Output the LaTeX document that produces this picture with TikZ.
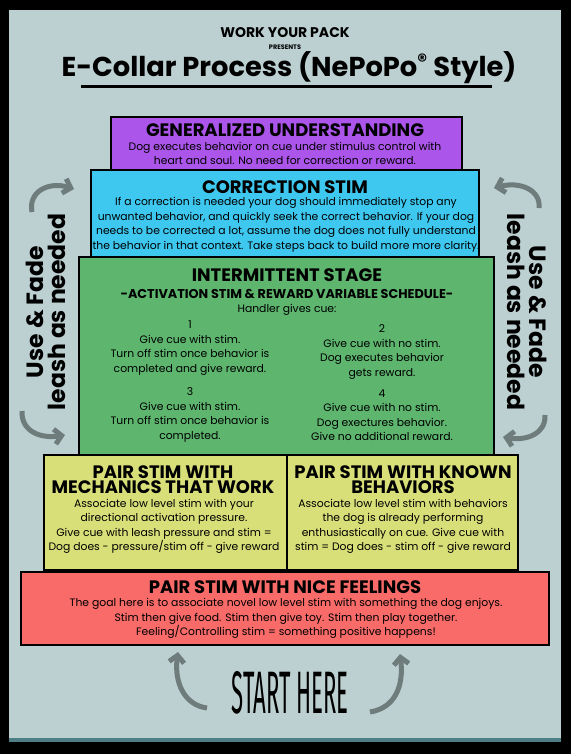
\documentclass[tikz,border=0pt]{standalone}
\usepackage{fontspec}
\usepackage{graphicx}
\setmainfont{Poppins}
\newfontfamily\handfont{Fira Sans}
\usetikzlibrary{arrows.meta}
\definecolor{paperblue}{HTML}{BCCFD1}
\definecolor{edgeteal}{HTML}{4E7F86}
\definecolor{genpurple}{HTML}{AB55EA}
\definecolor{corrcyan}{HTML}{3EC8F0}
\definecolor{intgreen}{HTML}{5DB56E}
\definecolor{pairyellow}{HTML}{D9DF78}
\definecolor{nicered}{HTML}{F86B68}
\definecolor{arrowgrey}{HTML}{6E7C7C}
\tikzset{
    x=1pt, y=-1pt, % one unit is one pixel of the poster, y runs down
    }

\begin{document}
\begin{tikzpicture}[
tierbox/.style={draw=black, line width=2.4pt, inner sep=0pt},
tierhead/.style={font=\bfseries\fontsize{18}{14.5}\selectfont, align=center, inner sep=0pt},
tierbody/.style={font=\fontsize{10.8}{14.5}\selectfont, align=center, inner sep=0pt},
sidenote/.style={font=\bfseries\fontsize{23.5}{22}\selectfont, align=center, inner sep=0pt},
bentarrow/.style={draw=arrowgrey, line width=5pt, -{Straight Barb[length=7pt,width=15pt]}},
]
\useasboundingbox (0,0) rectangle (571,754);
\fill[black] (0,0) rectangle (571,754);
\fill[paperblue] (9,10) rectangle (561,738);
\fill[edgeteal] (9,738) rectangle (561,742);

% heading
\node[font=\bfseries\fontsize{14}{14}\selectfont, inner sep=0pt] (pack) at (285,33) {WORK YOUR PACK};
\node[font=\bfseries\fontsize{6.5}{6.5}\selectfont, inner sep=0pt] (presents) at (285,47) {PRESENTS};
\node[font=\bfseries\fontsize{27.3}{27.3}\selectfont, inner sep=0pt] (title) at (289,68) {E-Collar Process (NePoPo\textsuperscript{®} Style)};
\draw[line width=3pt] (81,87) -- (492,87);

% tiers, bottom up
\node[tierbox, fill=nicered, minimum width=528pt, minimum height=73pt] (nice) at (285,608.5) {};
\node[tierbox, fill=pairyellow, minimum width=243pt, minimum height=115pt] (mech) at (165.5,512.5) {};
\node[tierbox, fill=pairyellow, minimum width=231pt, minimum height=115pt] (known) at (402.5,512.5) {};
\node[tierbox, fill=intgreen, minimum width=415pt, minimum height=198pt] (inter) at (286.5,356) {};
\node[tierbox, fill=corrcyan, minimum width=388pt, minimum height=87pt] (corr) at (285,213.5) {};
\node[tierbox, fill=genpurple, minimum width=351pt, minimum height=53pt] (general) at (286.5,143.5) {};

\node[tierhead] (generalhead) at (285,130) {GENERALIZED UNDERSTANDING};
\node[tierbody] (generalbody) at (285,153.5) {Dog executes behavior on cue under stimulus control with\\heart and soul. No need for correction or reward.};

\node[tierhead] (corrhead) at (285,187) {CORRECTION STIM};
\node[tierbody] (corrbody) at (286,224.8) {If a correction is needed your dog should immediately stop any\\unwanted behavior, and quickly seek the correct behavior. If your dog\\needs to be corrected a lot, assume the dog does not fully understand\\the behavior in that context. Take steps back to build more more clarity.};

\node[tierhead] (interhead) at (287,275) {INTERMITTENT STAGE};
\node[tierhead, font=\bfseries\fontsize{12.8}{13}\selectfont] (intersub) at (287,294) {-ACTIVATION STIM \& REWARD VARIABLE SCHEDULE-};
\node[tierbody] (handler) at (287,310) {Handler gives cue:};
\node[tierbody] (stepone) at (190,348) {1\\Give cue with stim.\\Turn off stim once behavior is\\completed and give reward.};
\node[tierbody] (steptwo) at (382,352) {2\\Give cue with no stim.\\Dog executes behavior\\gets reward.};
\node[tierbody] (stepthree) at (190,415) {3\\Give cue with stim.\\Turn off stim once behavior is\\completed.};
\node[tierbody] (stepfour) at (382,415) {4\\Give cue with no stim.\\Dog exectures behavior.\\Give no additional reward.};

\node[tierhead, font=\bfseries\fontsize{18}{15}\selectfont] (mechhead) at (163,480) {PAIR STIM WITH\\MECHANICS THAT WORK};
\node[tierbody] (mechbody) at (164,526.5) {Associate low level stim with your\\directional activation pressure.\\Give cue with leash pressure and stim =\\Dog does - pressure/stim off - give reward};
\node[tierhead, font=\bfseries\fontsize{18}{15}\selectfont] (knownhead) at (403,480) {PAIR STIM WITH KNOWN\\BEHAVIORS};
\node[tierbody] (knownbody) at (403,526.5) {Associate low level stim with behaviors\\the dog is already performing\\enthusiastically on cue. Give cue with\\stim = Dog does - stim off - give reward};

\node[tierhead] (nicehead) at (285,587) {PAIR STIM WITH NICE FEELINGS};
\node[tierbody] (nicebody) at (286,618.5) {The goal here is to associate novel low level stim with something the dog enjoys.\\Stim then give food. Stim then give toy. Stim then play together.\\Feeling/Controlling stim = something positive happens!};

% leash notes at the sides
\node[sidenote, rotate=90] (leashleft) at (46,312) {Use \& Fade\\leash as needed};
\node[sidenote, rotate=-90] (leashright) at (527,312) {Use \& Fade\\leash as needed};

\coordinate (ltail) at (32,212);
\coordinate (lhead) at (74,189);
\coordinate (lbtail) at (22,411);
\coordinate (lbhead) at (65,435);
\coordinate (rtail) at (539,208);
\coordinate (rhead) at (494,188);
\coordinate (rbtail) at (545,415);
\coordinate (rbhead) at (503,437);
\draw[bentarrow] (ltail) .. controls (28,192) and (48,181) .. (lhead);
\draw[bentarrow] (lbtail) .. controls (21,431) and (40,439) .. (lbhead);
\draw[bentarrow] (rtail) .. controls (541,190) and (520,181) .. (rhead);
\draw[bentarrow] (rbtail) .. controls (546,434) and (526,441) .. (rbhead);

% start here
\node[inner sep=0pt] (start) at (290,693) {\resizebox{117pt}{42pt}{\handfont START HERE}};
\coordinate (sltail) at (207,708);
\coordinate (slhead) at (178,652);
\coordinate (srtail) at (370,712);
\coordinate (srhead) at (400,654);
\draw[bentarrow] (sltail) .. controls (184,705) and (174,682) .. (slhead);
\draw[bentarrow] (srtail) .. controls (395,708) and (404,686) .. (srhead);
\end{tikzpicture}
\end{document}
